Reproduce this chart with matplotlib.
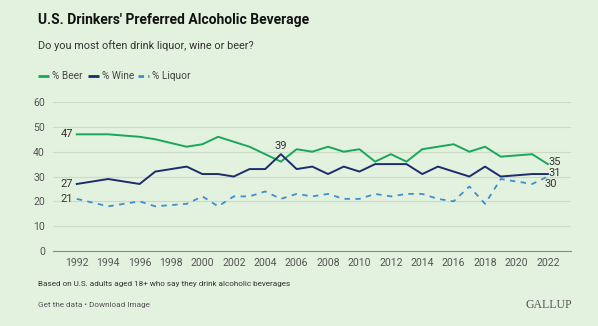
import matplotlib
matplotlib.use("Agg")
import matplotlib.pyplot as plt

years = [1992, 1994, 1996, 1997, 1999, 2000, 2001, 2002, 2003, 2004, 2005, 2006, 2007,
         2008, 2009, 2010, 2011, 2012, 2013, 2014, 2015, 2016, 2017, 2018, 2019, 2021, 2022]
beer = [47, 47, 46, 45, 42, 43, 46, 44, 42, 39, 36, 41, 40,
        42, 40, 41, 36, 39, 36, 41, 42, 43, 40, 42, 38, 39, 35]
wine = [27, 29, 27, 32, 34, 31, 31, 30, 33, 33, 39, 33, 34,
        31, 34, 32, 35, 35, 35, 31, 34, 32, 30, 34, 30, 31, 31]
liquor = [21, 18, 20, 18, 19, 22, 18, 22, 22, 24, 21, 23, 22,
          23, 21, 21, 23, 22, 23, 23, 21, 20, 26, 19, 29, 27, 30]
xticks = list(range(1992, 2023, 2))

bg = "#e3f1df"
c_beer = "#1aa75a"
c_wine = "#1b2d6b"
c_liq = "#3d8fd1"
txt = "#333333"

plt.rcParams["font.family"] = ["Roboto", "DejaVu Sans"]

fig = plt.figure(figsize=(5.98, 3.26), dpi=100, facecolor=bg)
ax = fig.add_axes([0.089, 0.230, 0.866, 0.457], facecolor=bg)

ax.plot(years, beer, color=c_beer, lw=1.4)
ax.plot(years, wine, color=c_wine, lw=1.4)
ax.plot(years, liquor, color=c_liq, lw=1.3, ls=(0, (3, 3)))

ax.set_xlim(1990.5, 2023.48)
ax.set_ylim(0, 60)
ax.set_yticks(range(0, 61, 10))
ax.set_xticks(xticks)
ax.grid(axis="y", color="#cbd9c8", lw=0.8)
ax.set_axisbelow(True)
for s in ["top", "right", "left"]:
    ax.spines[s].set_visible(False)
ax.spines["bottom"].set_color("#888888")
ax.tick_params(length=0, labelsize=7.6, colors="#555555")
ax.tick_params(axis="x", pad=5)
ax.tick_params(axis="y", pad=6)

# value labels
fs = 8
ax.text(years[0] - 0.25, beer[0], str(beer[0]), ha="right", va="center", fontsize=fs, color=txt)
ax.text(years[0] - 0.25, wine[0], str(wine[0]), ha="right", va="center", fontsize=fs, color=txt)
ax.text(years[0] - 0.25, liquor[0], str(liquor[0]), ha="right", va="center", fontsize=fs, color=txt)
i = years.index(2005)
ax.text(years[i], wine[i] + 1.3, str(wine[i]), ha="center", va="bottom", fontsize=fs, color=txt)
ax.text(years[-1] + 0.05, beer[-1] + 0.9, str(beer[-1]), ha="left", va="center", fontsize=fs, color=txt)
ax.text(years[-1] + 0.05, wine[-1] + 0.5, str(wine[-1]), ha="left", va="center", fontsize=fs, color=txt)
ax.text(years[-1] - 0.2, liquor[-1] - 3.0, str(liquor[-1]), ha="left", va="center", fontsize=fs, color=txt)

# titles
fig.text(38 / 598, 1 - 20 / 326, "U.S. Drinkers' Preferred Alcoholic Beverage", fontsize=10,
         fontweight="bold", color="#111111", va="center")
fig.text(38 / 598, 1 - 46 / 326, "Do you most often drink liquor, wine or beer?", fontsize=7.8,
         color="#333333", va="center")

# legend
ly = 1 - 76 / 326
items = [("% Beer", c_beer, "-", 38), ("% Wine", c_wine, "-", 88), ("% Liquor", c_liq, (0, (2, 1.5)), 138)]
for label, col, ls, x0 in items:
    fig.add_artist(plt.Line2D([x0 / 598, (x0 + 11) / 598], [ly, ly], color=col, lw=2, ls=ls,
                              solid_capstyle="butt", dash_capstyle="butt",
                              transform=fig.transFigure))
    fig.text((x0 + 14.5) / 598, ly, label, fontsize=7.3, color="#444444", va="center")

# footer
fig.text(38 / 598, 1 - 284 / 326, "Based on U.S. adults aged 18+ who say they drink alcoholic beverages",
         fontsize=5.9, color="#333333", va="center")
fig.text(38 / 598, 1 - 305 / 326, "Get the data \u2022 Download Image", fontsize=5.9, color="#555555",
         va="center")
fig.text(572 / 598, 1 - 305 / 326, "GALLUP", fontsize=8.5, family="Liberation Serif",
         color="#555555", va="center", ha="right")

fig.savefig("out.png", dpi=100, facecolor=bg)
